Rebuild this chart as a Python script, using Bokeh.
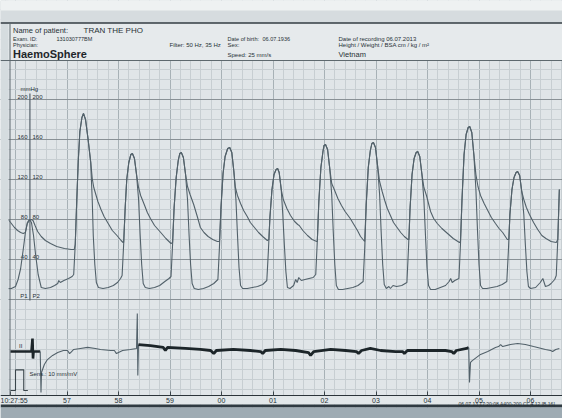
from bokeh.plotting import figure
from bokeh.models import Range1d, FixedTicker, Label, BoxAnnotation, Span, ColumnDataSource
from bokeh.embed import file_html
from bokeh.resources import INLINE
from bokeh.core.properties import value
import numpy as np

FONT = "Liberation Sans"

# ---------------- data (time in s after 10:27:00, pressure in mmHg, ECG in mV) ----------------
p2_t = [55.86, 55.92, 56.00, 56.05, 56.10, 56.15, 56.19, 56.23, 56.27, 56.31, 56.35, 56.39, 56.44, 56.50,
        56.58, 56.68, 56.76, 56.82, 56.84, 56.87, 56.94, 57.03, 57.10,
        57.13, 57.16, 57.19, 57.22, 57.25, 57.29, 57.32, 57.36, 57.41, 57.46, 57.49, 57.51, 57.54, 57.57,
        57.61, 57.70, 57.80, 57.90, 57.98, 58.04,
        58.07, 58.10, 58.13, 58.16, 58.20, 58.24, 58.27, 58.31, 58.35, 58.39, 58.42, 58.45, 58.48, 58.52,
        58.60, 58.70, 58.80, 58.90, 58.98,
        59.02, 59.05, 59.08, 59.12, 59.16, 59.19, 59.22, 59.26, 59.30, 59.34, 59.37, 59.40, 59.43, 59.47,
        59.55, 59.65, 59.75, 59.85,
        59.93, 59.96, 59.99, 60.03, 60.07, 60.12, 60.16, 60.20, 60.24, 60.28, 60.31, 60.34, 60.37, 60.41,
        60.50, 60.60, 60.70, 60.80,
        60.88, 60.91, 60.94, 60.98, 61.02, 61.06, 61.09, 61.12, 61.16, 61.19, 61.22, 61.25, 61.28, 61.33,
        61.40, 61.44, 61.47, 61.50, 61.55, 61.62, 61.70, 61.78,
        61.83, 61.86, 61.89, 61.93, 61.97, 61.99, 62.02, 62.06, 62.10, 62.14, 62.17, 62.20, 62.23, 62.27,
        62.35, 62.45, 62.55, 62.65,
        62.75, 62.78, 62.81, 62.85, 62.89, 62.92, 62.95, 62.99, 63.03, 63.07, 63.10, 63.13, 63.16, 63.20,
        63.25, 63.28, 63.33, 63.40, 63.50,
        63.60, 63.63, 63.66, 63.70, 63.74, 63.78, 63.81, 63.85, 63.89, 63.93, 63.96, 63.99, 64.02, 64.06,
        64.15, 64.25, 64.35, 64.42, 64.45, 64.48, 64.53,
        64.61, 64.64, 64.67, 64.71, 64.75, 64.79, 64.82, 64.86, 64.90, 64.94, 64.97, 65.00, 65.03, 65.07,
        65.15, 65.25, 65.35, 65.45,
        65.54, 65.57, 65.60, 65.64, 65.68, 65.72, 65.75, 65.79, 65.83, 65.87, 65.90, 65.93, 65.96, 66.00,
        66.10, 66.19, 66.24, 66.29, 66.35, 66.40, 66.47,
        66.50, 66.53, 66.56]
p2_p = [11, 11, 13, 20, 31, 50, 66, 77, 80, 77, 64, 45, 25, 12,
        11, 12, 14, 16, 19, 17, 19, 21, 23,
        25, 55, 100, 140, 168, 182, 186, 180, 160, 137, 100, 64, 35, 17,
        12, 11, 12, 14, 17, 21,
        24, 55, 92, 120, 137, 145, 146, 141, 125, 100, 65, 35, 16, 12,
        11, 12, 14, 18, 21,
        23, 55, 92, 122, 139, 146, 147, 142, 126, 100, 65, 35, 16, 11,
        10, 11, 13, 16,
        20, 52, 92, 126, 143, 151, 152, 147, 128, 100, 65, 32, 14, 11,
        11, 12, 13, 15,
        19, 48, 82, 110, 125, 130, 131, 127, 110, 85, 55, 28, 12, 11,
        14, 20, 17, 22, 19, 20, 21, 22,
        25, 58, 98, 132, 148, 154, 155, 150, 132, 105, 68, 35, 14, 10,
        10, 11, 12, 14,
        18, 50, 95, 132, 149, 156, 157, 152, 134, 105, 68, 35, 15, 11,
        13, 11, 14, 13, 14,
        17, 50, 90, 125, 141, 147, 148, 143, 126, 100, 65, 32, 14, 10,
        10, 12, 14, 18, 21, 17, 19,
        21, 55, 100, 145, 165, 172, 173, 167, 145, 110, 70, 35, 14, 11,
        11, 12, 13, 15,
        18, 48, 85, 110, 122, 127, 128, 124, 108, 85, 55, 28, 13, 11,
        12, 17, 21, 13, 14, 16, 20,
        24, 60, 110]

p1_t = [55.86, 55.92, 55.98, 56.04, 56.10, 56.15, 56.19, 56.23, 56.27, 56.31, 56.34, 56.38, 56.43, 56.50,
        56.58, 56.68, 56.80, 56.95, 57.08, 57.14,
        57.16, 57.19, 57.22, 57.25, 57.29, 57.32, 57.36, 57.41, 57.46, 57.49, 57.52, 57.56, 57.60, 57.66,
        57.72, 57.80, 57.88, 57.97, 58.05, 58.09,
        58.10, 58.13, 58.16, 58.20, 58.24, 58.27, 58.31, 58.35, 58.39, 58.43, 58.50, 58.56, 58.62, 58.70,
        58.82, 58.92, 59.02,
        59.05, 59.08, 59.12, 59.16, 59.19, 59.22, 59.26, 59.30, 59.34, 59.39, 59.46, 59.53, 59.59, 59.66,
        59.74, 59.83, 59.92,
        59.96, 59.99, 60.03, 60.07, 60.12, 60.16, 60.20, 60.24, 60.27, 60.31, 60.37, 60.43, 60.50, 60.56,
        60.64, 60.72, 60.80, 60.89,
        60.92, 60.94, 60.98, 61.02, 61.06, 61.09, 61.12, 61.16, 61.20, 61.27, 61.34, 61.42, 61.48, 61.51,
        61.58, 61.67, 61.76, 61.85,
        61.86, 61.89, 61.93, 61.97, 61.99, 62.02, 62.06, 62.10, 62.14, 62.19, 62.26, 62.33, 62.40, 62.50,
        62.57, 62.64, 62.70, 62.78,
        62.81, 62.85, 62.89, 62.92, 62.95, 62.99, 63.03, 63.07, 63.12, 63.17, 63.22, 63.28, 63.34, 63.41,
        63.48, 63.55, 63.62,
        63.64, 63.66, 63.70, 63.74, 63.78, 63.81, 63.85, 63.89, 63.93, 63.98, 64.06, 64.12, 64.19, 64.28,
        64.39, 64.50, 64.62,
        64.64, 64.67, 64.71, 64.75, 64.79, 64.82, 64.86, 64.90, 64.94, 64.98, 65.03, 65.10, 65.17, 65.24,
        65.32, 65.39, 65.46, 65.55,
        65.58, 65.60, 65.64, 65.68, 65.72, 65.75, 65.79, 65.83, 65.87, 65.92, 65.98, 66.06, 66.14, 66.22,
        66.30, 66.40, 66.50, 66.53, 66.56]
p1_p = [80, 76, 72, 69, 67, 66, 67, 76, 79, 80, 79, 74, 68, 63,
        59, 56, 53, 51, 50, 50,
        55, 100, 140, 168, 182, 186, 180, 160, 138, 121, 112, 105, 98, 90,
        83, 76, 69, 64, 59, 57,
        57, 92, 120, 137, 145, 146, 141, 125, 112, 104, 95, 87, 81, 74,
        67, 61, 56,
        57, 92, 122, 139, 146, 147, 142, 126, 113, 105, 95, 83, 72, 67,
        63, 60, 58,
        58, 92, 126, 143, 151, 152, 147, 128, 112, 104, 96, 89, 83, 77,
        72, 67, 63, 59,
        60, 82, 110, 125, 130, 131, 127, 110, 100, 91, 84, 78, 75, 74,
        69, 64, 60, 58,
        58, 98, 132, 148, 154, 155, 150, 132, 116, 110, 101, 94, 88, 81,
        75, 69, 63, 58,
        95, 132, 149, 156, 157, 152, 134, 118, 108, 99, 91, 84, 77, 72,
        67, 63, 60,
        60, 90, 125, 141, 147, 148, 143, 126, 112, 104, 88, 81, 76, 71,
        66, 61, 57,
        58, 100, 145, 165, 172, 173, 167, 145, 125, 113, 104, 96, 89, 82,
        76, 71, 67, 60,
        60, 85, 110, 122, 127, 128, 124, 108, 100, 92, 85, 77, 70, 64,
        61, 58, 57, 60, 110]

# ECG lead II (mV); thick = dark printed segments, thin = faint segments
ecg_a_t = [55.90, 56.14, 56.31, 56.33, 56.34, 56.35, 56.48]
ecg_a_v = [-0.05, -0.05, -0.05, 0.58, -0.39, -0.05, -0.05]
ecg_b_t = [56.48, 56.495, 56.505, 56.56, 56.62, 56.72, 56.82, 56.93, 57.01, 57.05, 57.09, 57.13, 57.26,
           57.40, 57.55, 57.65, 57.85, 57.92, 57.96, 58.00, 58.08, 58.23, 58.35, 58.365, 58.375, 58.388]
ecg_b_v = [-0.05, -2.04, -1.07, -0.68, -0.44, -0.24, -0.10, 0.0, 0.0, -0.15, -0.05, 0.05, 0.10,
           0.15, 0.10, 0.05, 0.0, 0.0, -0.15, -0.10, 0.0, 0.05, 0.10, 1.80, -1.21, 0.29]
ecg_c_t = [58.388, 58.62, 58.87, 58.91, 58.95, 59.30, 59.59, 59.79, 59.85, 59.90, 60.23, 60.56, 60.76,
           60.80, 60.85, 61.15, 61.44, 61.69, 61.73, 61.79, 62.12, 62.41, 62.62, 62.66, 62.72, 62.89,
           63.09, 63.38, 63.52, 63.55, 63.61, 64.06, 64.35, 64.47, 64.51, 64.56, 64.76, 64.80]
ecg_c_v = [0.29, 0.24, 0.15, 0.0, 0.15, 0.10, 0.05, 0.0, -0.15, 0.0, 0.05, 0.0, -0.05,
           -0.15, 0.0, 0.05, 0.0, -0.10, -0.24, -0.05, 0.05, 0.0, -0.05, -0.15, 0.0, 0.10,
           0.0, -0.05, -0.05, -0.15, 0.0, 0.0, 0.0, -0.05, -0.15, 0.0, 0.10, 0.15]
ecg_d_t = [64.80, 64.815, 64.835, 64.87, 65.03, 65.17, 65.32, 65.38, 65.42, 65.46, 65.61, 65.75, 65.90,
           66.06, 66.29, 66.39, 66.43, 66.49, 66.56]
ecg_d_v = [0.15, -1.55, -0.58, -0.49, -0.19, -0.05, 0.15, 0.19, 0.29, 0.19, 0.29, 0.34, 0.29,
           0.19, 0.05, 0.0, -0.05, 0.05, 0.10]

# calibration pulse (1 mV)
cal_t = [55.90, 56.00, 56.00, 56.16, 56.16, 56.24]
cal_v = [-1.94, -1.94, -0.94, -0.94, -1.94, -1.94]

# cursor
cursor_t = [56.28]
cursor_p0 = [-1]
cursor_p1 = [206]

# pressure scale labels
scale_vals = [200, 160, 120, 80, 40]
time_ticks = [55.9, 57, 58, 59, 60, 61, 62, 63, 64, 65, 66]
time_labels = ["10:27:55", "57", "58", "59", "00", "01", "02", "03", "04", "05", "06"]

# ---------------- layout ----------------
PX_PER_S = 51.5          # 25 mm/s paper
X_AT_56 = 15.0           # page px of second 56
ZERO_Y = 299.0           # page px of 0 mmHg
ECG_BASE = -51.0         # 0 mV level on the pressure scale
ECG_SCALE = 20.6         # 10 mm/mV


def px2t(x):
    return 56 + (x - X_AT_56) / PX_PER_S


def px2p(y):
    return ZERO_Y - y


T0, T1 = px2t(0), px2t(562)
Y0, Y1 = px2p(418), px2p(0)

PAPER = "#e0e5e8"
TRACE = "#52616a"
INK = "#283136"

p = figure(frame_width=562, frame_height=418, x_range=Range1d(T0, T1), y_range=Range1d(Y0, Y1),
           output_backend="svg", toolbar_location=None, y_axis_location=None,
           min_border=0, min_border_left=0, min_border_right=0, min_border_top=0, min_border_bottom=0)
p.outline_line_color = None
p.background_fill_color = PAPER
p.border_fill_color = PAPER
p.extra_y_ranges = {"ecg": Range1d((Y0 - ECG_BASE) / ECG_SCALE, (Y1 - ECG_BASE) / ECG_SCALE)}

# grids
p.xgrid.ticker = FixedTicker(ticks=list(range(56, 67)),
                             minor_ticks=[round(v, 2) for v in np.arange(55.8, 66.8, 0.2)])
p.xgrid.grid_line_color = "#a7b1b6"
p.xgrid.grid_line_width = 1
p.xgrid.minor_grid_line_color = "#c7ced2"
p.ygrid.ticker = FixedTicker(ticks=[0] + scale_vals, minor_ticks=list(range(-90, 300, 10)))
p.ygrid.grid_line_color = "#4b555a"
p.ygrid.grid_line_dash = "1 1"
p.ygrid.grid_line_width = 1
p.ygrid.minor_grid_line_color = "#c7ced2"

# time axis, drawn on the paper at the foot of the ECG channel
ax = p.xaxis[0]
ax.fixed_location = px2p(395)
ax.ticker = FixedTicker(ticks=time_ticks)
ax.major_label_overrides = {k: v for k, v in zip(time_ticks, time_labels)}
ax.major_label_text_align = "left"
ax.major_label_text_font = FONT
ax.major_label_text_font_size = "7px"
ax.major_label_text_color = INK
ax.major_label_standoff = 1
ax.major_tick_in = 4
ax.major_tick_out = 0
ax.major_tick_line_color = "#3b454a"
ax.minor_tick_line_color = None
ax.axis_line_color = "#2b3439"

# paper edges and header backgrounds
p.add_layout(BoxAnnotation(right=px2t(8), fill_color="#d5dcdf", fill_alpha=1, line_color=None, level="glyph"))
p.add_layout(BoxAnnotation(bottom=px2p(22.5), fill_color="#d6dcdf", fill_alpha=1, line_color=None, level="glyph"))
p.add_layout(BoxAnnotation(bottom=px2p(10), fill_color="#eef1f2", fill_alpha=1, line_color=None, level="glyph"))
p.add_layout(BoxAnnotation(top=px2p(22.5), bottom=px2p(60), left=px2t(8), fill_color="#e6eaec", fill_alpha=1,
                           line_color=None, level="glyph"))
p.add_layout(BoxAnnotation(top=px2p(395), bottom=px2p(404), fill_color="#e2e7e9", fill_alpha=1,
                           line_color=None, level="glyph"))
p.add_layout(BoxAnnotation(top=px2p(404), bottom=px2p(407), fill_color="#2f3a41", fill_alpha=1,
                           line_color=None, level="glyph"))
p.add_layout(BoxAnnotation(top=px2p(407), fill_color="#9eabb3", fill_alpha=1,
                           line_color=None, level="glyph"))
p.add_layout(Span(location=px2p(22.5), dimension="width", line_color="#333d43", line_width=1.5))
p.add_layout(Span(location=px2p(60), dimension="width", line_color="#5d686e", line_width=1))
p.add_layout(BoxAnnotation(left=px2t(9), right=px2t(10), top=px2p(22.5), bottom=px2p(395),
                           fill_color="#5d686e", fill_alpha=1, line_color=None))


def lab(x, y, text, size="6px", style="normal", color=INK, align="left"):
    p.add_layout(Label(x=px2t(x), y=px2p(y), text=text, text_font=FONT, text_font_size=size,
                       text_font_style=style, text_color=color, text_align=align,
                       text_baseline="middle"))


lab(12.5, 29.5, "Name of patient:", "7.5px")
lab(83, 29.5, "TRAN THE PHO", "8px")
lab(12.5, 38.5, "Exam. ID:", "5.5px")
lab(56, 38.5, "131030777BM", "5.5px")
lab(12.5, 44, "Physician:", "5.5px")
lab(12.5, 53.5, "HaemoSphere", "11px", "bold", "#1e262b")
lab(169, 44, "Filter: 50 Hz, 35 Hz", "6px")
lab(227, 38.5, "Date of birth:", "5.5px")
lab(262, 38.5, "06.07.1936", "5.5px")
lab(227, 44, "Sex:", "6px")
lab(227, 54, "Speed: 25 mm/s", "6px")
lab(338, 38.5, "Date of recording 06.07.2013", "6px")
lab(338, 44, "Height / Weight / BSA   cm /  kg / m\u00b2", "6px")
lab(338, 53.5, "Vietnam", "7.5px")
lab(20, 88, "mmHg", "6px")
lab(458, 403, "06.07.13 17:20:08 A400-200 CL 4.12 [B 16]", "5px")

# pressure scale labels (two channels)
src_sc = ColumnDataSource(dict(t=[px2t(27)] * len(scale_vals), t2=[px2t(32)] * len(scale_vals),
                               p=[v + 2.5 for v in scale_vals], s=[str(v) for v in scale_vals]))
p.text(x="t", y="p", text="s", source=src_sc, text_font=value(FONT), text_font_size="6px",
       text_color=INK, text_align="right", text_baseline="middle")
p.text(x="t2", y="p", text="s", source=src_sc, text_font=value(FONT), text_font_size="6px",
       text_color=INK, text_align="left", text_baseline="middle")
p.text(x=[px2t(27)], y=[4], text=["P1"], text_font=value(FONT), text_font_size="6px",
       text_color=INK, text_align="right", text_baseline="middle")
p.text(x=[px2t(32)], y=[4], text=["P2"], text_font=value(FONT), text_font_size="6px",
       text_color=INK, text_align="left", text_baseline="middle")

# cursor line
p.segment(x0=cursor_t, y0=cursor_p0, x1=cursor_t, y1=cursor_p1, line_color="#56626a", line_width=1.2)

# pressure traces
p.line(p1_t, p1_p, line_color=TRACE, line_width=1.1)
p.line(p2_t, p2_p, line_color=TRACE, line_width=1.1)

# ECG
p.line(ecg_a_t, ecg_a_v, y_range_name="ecg", line_color="#1c2529", line_width=2.6)
p.line(ecg_b_t, ecg_b_v, y_range_name="ecg", line_color=TRACE, line_width=1.1)
p.line(ecg_c_t, ecg_c_v, y_range_name="ecg", line_color="#1c2529", line_width=2.8)
p.line(ecg_d_t, ecg_d_v, y_range_name="ecg", line_color=TRACE, line_width=1.1)
p.line(cal_t, cal_v, y_range_name="ecg", line_color="#3a454b", line_width=1.1)
p.text(x=[56.10], y=[0.24], text=["II"], y_range_name="ecg", text_font=value(FONT), text_font_size="6px",
       text_color=INK, text_align="center", text_baseline="middle")
p.text(x=[px2t(29)], y=[-1.12], text=["Sens.: 10 mm/mV"], y_range_name="ecg", text_font=value(FONT),
       text_font_size="6px", text_color=INK, text_align="left", text_baseline="middle")

open("out.html", "w").write(file_html(p, INLINE))
